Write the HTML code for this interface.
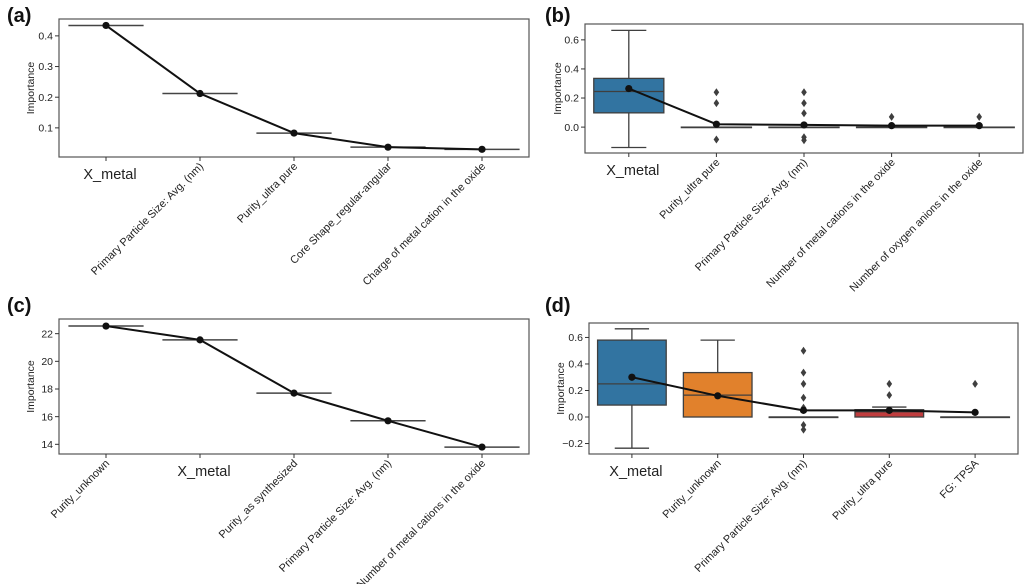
<!DOCTYPE html>
<html><head><meta charset="utf-8">
<style>
html,body{margin:0;padding:0;background:#fff;}
svg{display:block;font-family:"Liberation Sans","DejaVu Sans",sans-serif;}
</style></head>
<body>
<svg id="fig" width="1024" height="584" viewBox="0 0 1024 584" xmlns="http://www.w3.org/2000/svg"></svg>
<script>
// ---- Panel (a) data ----
const catsA = ["X_metal","Primary Particle Size: Avg. (nm)","Purity_ultra pure","Core Shape_regular-angular","Charge of metal cation in the oxide"];
const valsA = [0.434, 0.212, 0.083, 0.037, 0.030];
const ticksA = [0.1, 0.2, 0.3, 0.4];
// ---- Panel (b) data ----
const catsB = ["X_metal","Purity_ultra pure","Primary Particle Size: Avg. (nm)","Number of metal cations in the oxide","Number of oxygen anions in the oxide"];
const meansB = [0.265, 0.02, 0.015, 0.01, 0.01];
const q1B = [0.098, 0, 0, 0, 0];
const medB = [0.245, 0, 0, 0, 0];
const q3B = [0.335, 0, 0, 0, 0];
const wloB = [-0.14, 0, 0, 0, 0];
const whiB = [0.665, 0, 0, 0, 0];
const outB = [[], [0.24, 0.165, -0.085], [0.24, 0.165, 0.095, -0.07, -0.09], [0.07], [0.07]];
const ticksB = [0.0, 0.2, 0.4, 0.6];
// ---- Panel (c) data ----
const catsC = ["Purity_unknown","X_metal","Purity_as synthesized","Primary Particle Size: Avg. (nm)","Number of metal cations in the oxide"];
const valsC = [22.55, 21.55, 17.7, 15.7, 13.8];
const ticksC = [14, 16, 18, 20, 22];
// ---- Panel (d) data ----
const catsD = ["X_metal","Purity_unknown","Primary Particle Size: Avg. (nm)","Purity_ultra pure","FG: TPSA"];
const meansD = [0.30, 0.16, 0.05, 0.05, 0.035];
const q1D = [0.09, 0, 0, 0, 0];
const medD = [0.25, 0.165, 0, 0.04, 0];
const q3D = [0.58, 0.335, 0, 0.055, 0];
const wloD = [-0.235, 0, 0, 0, 0];
const whiD = [0.665, 0.58, 0, 0.075, 0];
const outD = [[], [], [0.5, 0.335, 0.25, 0.145, 0.07, -0.06, -0.095], [0.25, 0.165], [0.25]];
const ticksD = [-0.2, 0.0, 0.2, 0.4, 0.6];
const colorsD = ["#3274a1","#e1812c","#3274a1","#c03d3e","#3274a1"];

const NS = "http://www.w3.org/2000/svg";
const svg = document.getElementById("fig");
function mk(tag, attrs, parent, text){
  const e = document.createElementNS(NS, tag);
  for (const k in attrs) e.setAttribute(k, attrs[k]);
  if (text !== undefined) e.textContent = text;
  (parent || svg).appendChild(e);
  return e;
}

function panel(cfg){
  const g = mk("g", {});
  
  
  const {x0,x1,y0,y1,ymin,ymax,cats} = cfg;
  const n = cats.length, step = (x1-x0)/n;
  const X = i => x0 + step*(i+0.5);
  const Y = v => y1 - (v-ymin)/(ymax-ymin)*(y1-y0);
  const lab = mk("text", {x: cfg.lx, y: cfg.ly, "font-size": 20, "font-weight": "bold", fill: "#111"}, g, cfg.label);
  
  
  const fr = mk("rect", {x:x0, y:y0, width:x1-x0, height:y1-y0, fill:"none", stroke:"#555", "stroke-width":1.2}, g);
  
  
  cfg.ticks.forEach(t => {
    const y = Y(t);
    mk("line", {x1:x0-4, x2:x0, y1:y, y2:y, stroke:"#333", "stroke-width":1}, g);
    const tl = mk("text", {x:x0-6, y:y+3.7, "font-size":10.5, "text-anchor":"end", fill:"#222"}, g, cfg.fmt(t));
    
    
  });
  const yl = mk("text", {x:0, y:0, "font-size":10.5, "text-anchor":"middle", fill:"#222",
    transform:`translate(${cfg.ylx},${(y0+y1)/2}) rotate(-90)`}, g, "Importance");
  
  
  cats.forEach((c,i) => {
    const x = X(i);
    mk("line", {x1:x, x2:x, y1:y1, y2:y1+4, stroke:"#333", "stroke-width":1}, g);
    let t;
    if (c === "X_metal") {
      t = mk("text", {x:x+4, y:y1+22, "font-size":14.5, "text-anchor":"middle", fill:"#222"}, g, c);
    } else {
      t = mk("text", {x:0, y:0, "font-size":10.9, "text-anchor":"end", fill:"#222",
        transform:`translate(${x+4},${y1+10}) rotate(-45)`}, g, c);
    }
    
    
  });
  if (cfg.q1) {
    const bw = step*0.8, cw = step*0.4;
    cats.forEach((c,i) => {
      const x = X(i);
      if (cfg.whi[i] !== cfg.q3[i]) mk("line",{x1:x,x2:x,y1:Y(cfg.whi[i]),y2:Y(cfg.q3[i]),stroke:"#3f3f3f","stroke-width":1.3},g);
      if (cfg.wlo[i] !== cfg.q1[i]) mk("line",{x1:x,x2:x,y1:Y(cfg.wlo[i]),y2:Y(cfg.q1[i]),stroke:"#3f3f3f","stroke-width":1.3},g);
      if (cfg.whi[i] !== cfg.q3[i]) mk("line",{x1:x-cw/2,x2:x+cw/2,y1:Y(cfg.whi[i]),y2:Y(cfg.whi[i]),stroke:"#3f3f3f","stroke-width":1.3},g);
      if (cfg.wlo[i] !== cfg.q1[i]) mk("line",{x1:x-cw/2,x2:x+cw/2,y1:Y(cfg.wlo[i]),y2:Y(cfg.wlo[i]),stroke:"#3f3f3f","stroke-width":1.3},g);
      const h = Math.max(Y(cfg.q1[i]) - Y(cfg.q3[i]), 0.5);
      const b = mk("rect",{x:x-bw/2,y:Y(cfg.q3[i]),width:bw,height:h,fill:cfg.colors[i],stroke:"#3f3f3f","stroke-width":1.3},g);
      
      
      mk("line",{x1:x-bw/2,x2:x+bw/2,y1:Y(cfg.med[i]),y2:Y(cfg.med[i]),stroke:"#3f3f3f","stroke-width":1.3},g);
      cfg.out[i].forEach(v => {
        const o = mk("path",{d:`M${x},${Y(v)-4} L${x+2.8},${Y(v)} L${x},${Y(v)+4} L${x-2.8},${Y(v)} Z`,fill:"#3f3f3f"},g);
        
        
      });
    });
  }
  if (cfg.hbars) {
    cfg.vals.forEach((v,i) => {
      const hb = mk("line",{x1:X(i)-step*0.4,x2:X(i)+step*0.4,y1:Y(v),y2:Y(v),stroke:"#444","stroke-width":1.5},g);
      
      
    });
  }
  const pts = cfg.vals.map((v,i) => `${X(i)},${Y(v)}`).join(" ");
  const pl = mk("polyline",{points:pts,fill:"none",stroke:"#111","stroke-width":2,"stroke-linejoin":"round"},g);
  
  
  cfg.vals.forEach((v,i) => {
    const p = mk("circle",{cx:X(i),cy:Y(v),r:3.6,fill:"#111"},g);
    
    
  });
}

panel({name:"panel-a", label:"(a)", lx:7, ly:22, x0:59, x1:529, y0:19, y1:157, ymin:0.005, ymax:0.455, ylx:34,
  cats:catsA, vals:valsA, ticks:ticksA, fmt:t=>t.toFixed(1), hbars:true});
panel({name:"panel-b", label:"(b)", lx:545, ly:22, x0:585, x1:1023, y0:24, y1:153, ymin:-0.178, ymax:0.709, ylx:561,
  cats:catsB, vals:meansB, ticks:ticksB, fmt:t=>t.toFixed(1),
  q1:q1B, med:medB, q3:q3B, wlo:wloB, whi:whiB, out:outB, colors:["#3274a1","#3274a1","#3274a1","#3274a1","#3274a1"]});
panel({name:"panel-c", label:"(c)", lx:7, ly:312, x0:59, x1:529, y0:319, y1:454, ymin:13.3, ymax:23.06, ylx:34,
  cats:catsC, vals:valsC, ticks:ticksC, fmt:t=>String(t), hbars:true});
panel({name:"panel-d", label:"(d)", lx:545, ly:312, x0:589, x1:1018, y0:323, y1:454, ymin:-0.279, ymax:0.709, ylx:564,
  cats:catsD, vals:meansD, ticks:ticksD, fmt:t=>(t<0?"\u2212"+Math.abs(t).toFixed(1):t.toFixed(1)),
  q1:q1D, med:medD, q3:q3D, wlo:wloD, whi:whiD, out:outD, colors:colorsD});
</script>
</body></html>
